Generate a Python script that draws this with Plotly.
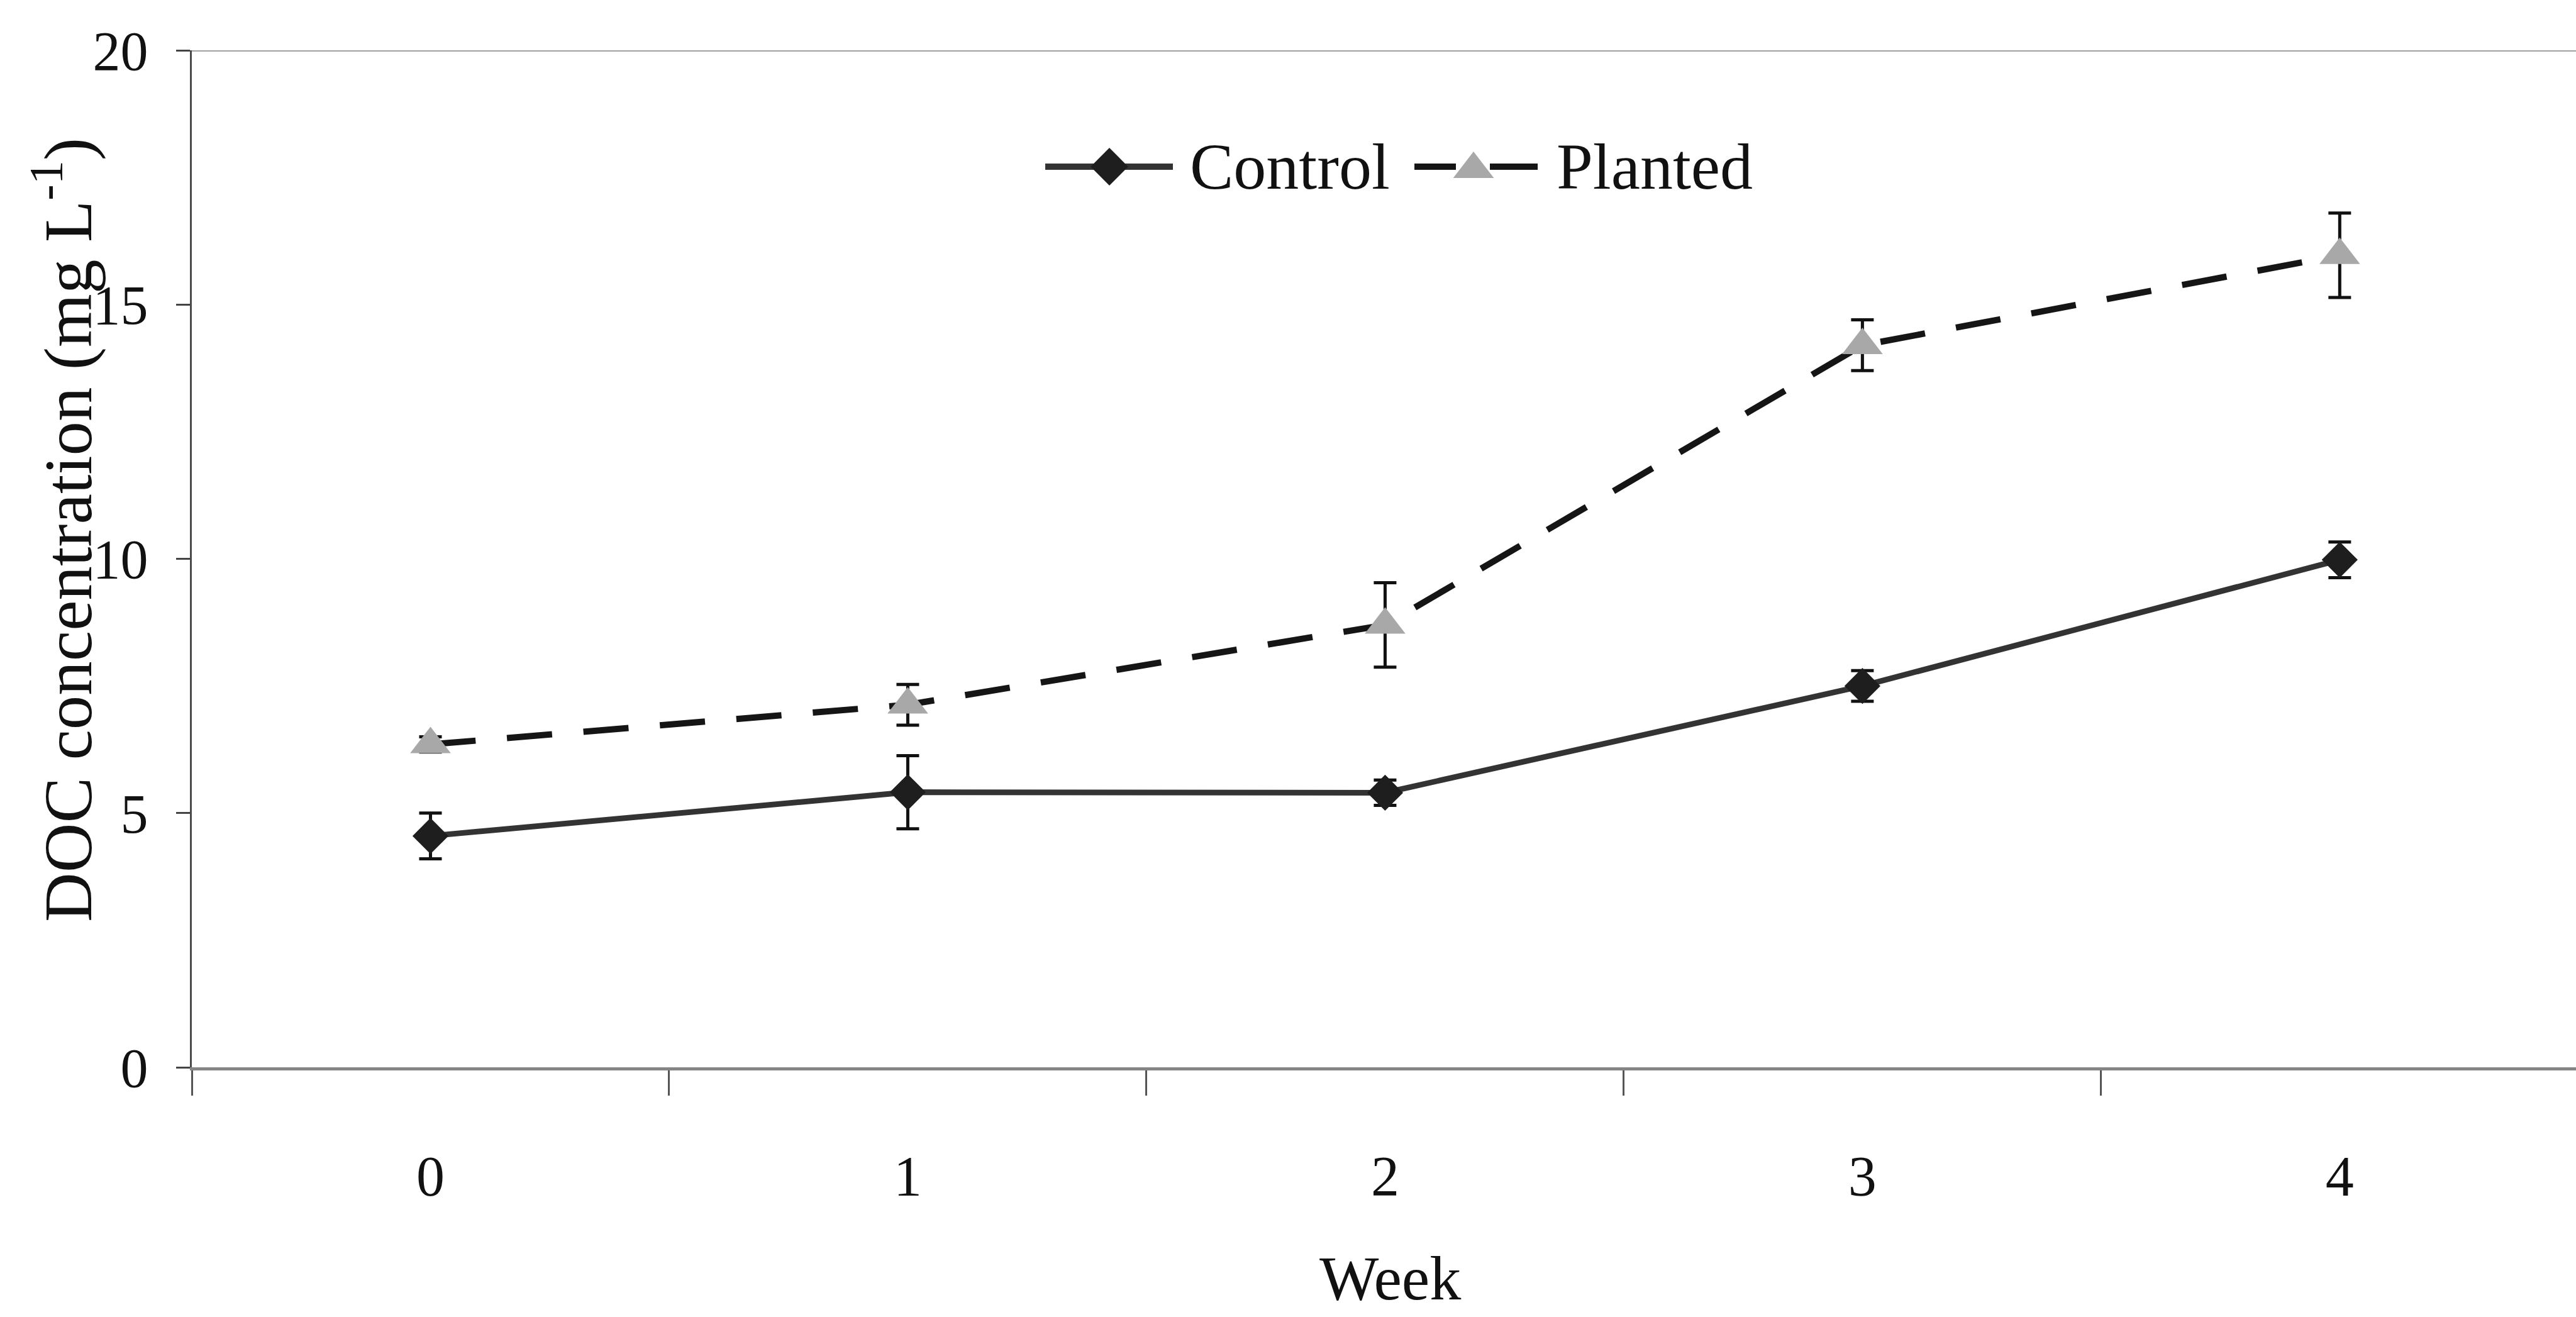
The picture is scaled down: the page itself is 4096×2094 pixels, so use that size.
import plotly.graph_objects as go

# Weekly DOC concentration (mg L-1), mean and error
weeks = ["0", "1", "2", "3", "4"]
control = [4.55, 5.41, 5.40, 7.50, 9.98]
control_err = [0.45, 0.72, 0.25, 0.30, 0.35]
planted = [6.35, 7.13, 8.70, 14.20, 15.97]
planted_err = [0.15, 0.40, 0.83, 0.50, 0.83]
y_ticks = [0, 5, 10, 15, 20]

W, H = 4096, 2094
L, T, B = 305, 80, 397
PW, PH = W - L, H - T - B
FONT = "Liberation Serif"


def px(x):
    """Pixel column -> paper x."""
    return (x - L) / PW


def py(y):
    """Pixel row -> paper y."""
    return (H - B - y) / PH


fig = go.Figure()

fig.add_trace(go.Scatter(
    x=weeks, y=control, name="Control", mode="lines+markers",
    line=dict(color="#333333", width=9),
    marker=dict(symbol="diamond", size=44, color="#1e1e1e"),
    error_y=dict(type="data", array=control_err, color="#111111",
                 thickness=5, width=18),
    showlegend=False, cliponaxis=False,
))
fig.add_trace(go.Scatter(
    x=weeks, y=planted, name="Planted", mode="lines+markers",
    line=dict(color="#151515", width=10, dash="72px,50px"),
    marker=dict(symbol="triangle-up", size=56, color="#a8a8a8"),
    error_y=dict(type="data", array=planted_err, color="#111111",
                 thickness=5, width=18),
    showlegend=False, cliponaxis=False,
))

# Legend drawn on a pixel-space overlay axis
leg_y = 265
fig.add_trace(go.Scatter(
    x=[1662, 1865], y=[leg_y, leg_y], mode="lines",
    line=dict(color="#333333", width=10), xaxis="x2", yaxis="y2",
    showlegend=False, hoverinfo="skip"))
fig.add_trace(go.Scatter(
    x=[1764], y=[leg_y], mode="markers",
    marker=dict(symbol="diamond", size=46, color="#1e1e1e"),
    xaxis="x2", yaxis="y2", showlegend=False, hoverinfo="skip"))
for seg in ([2249, 2315], [2369, 2445]):
    fig.add_trace(go.Scatter(
        x=seg, y=[leg_y, leg_y], mode="lines",
        line=dict(color="#151515", width=10), xaxis="x2", yaxis="y2",
        showlegend=False, hoverinfo="skip"))
fig.add_trace(go.Scatter(
    x=[2343], y=[leg_y + 4], mode="markers",
    marker=dict(symbol="triangle-up", size=56, color="#a8a8a8"),
    xaxis="x2", yaxis="y2", showlegend=False, hoverinfo="skip"))

text_font = dict(family=FONT, size=104, color="#111111")
annotations = [
    dict(text="Control", x=px(1890), y=py(264), xref="paper", yref="paper",
         xanchor="left", yanchor="middle", showarrow=False, font=text_font),
    dict(text="Planted", x=px(2473), y=py(264), xref="paper", yref="paper",
         xanchor="left", yanchor="middle", showarrow=False, font=text_font),
    dict(text="DOC concentration (mg L<sup>-1</sup>)", x=px(100), y=py(843),
         xref="paper", yref="paper", xanchor="center", yanchor="middle",
         textangle=-90, showarrow=False,
         font=dict(family=FONT, size=109, color="#111111")),
    dict(text="Week", x=px(2210), y=py(2032), xref="paper", yref="paper",
         xanchor="center", yanchor="middle", showarrow=False,
         font=dict(family=FONT, size=100, color="#111111")),
]

fig.update_layout(
    width=W, height=H,
    margin=dict(l=L, r=0, t=T, b=B, pad=0),
    paper_bgcolor="white", plot_bgcolor="white",
    font=dict(family=FONT, color="#111111"),
    annotations=annotations,
    xaxis=dict(
        type="category", categoryorder="array", categoryarray=weeks,
        range=[-0.5, 4.495], tickson="boundaries",
        ticks="outside", ticklen=40, tickwidth=3, tickcolor="#555555",
        showline=True, linecolor="#858585", linewidth=5,
        showgrid=False, zeroline=False,
        tickfont=dict(family=FONT, size=90, color="#111111"),
        ticklabelstandoff=91,
    ),
    yaxis=dict(
        range=[0, 20], tickmode="array", tickvals=y_ticks,
        ticktext=[str(v) for v in y_ticks],
        ticks="outside", ticklen=22, tickwidth=3, tickcolor="#444444",
        showline=True, linecolor="#4a4a4a", linewidth=3,
        showgrid=False, zeroline=False,
        tickfont=dict(family=FONT, size=88, color="#111111"),
        ticklabelstandoff=27,
    ),
    xaxis2=dict(domain=[0, 1], range=[L, W], overlaying="x", anchor="y2",
                visible=False, fixedrange=True),
    yaxis2=dict(domain=[0, 1], range=[H - B, T], overlaying="y", anchor="x2",
                visible=False, fixedrange=True),
    shapes=[dict(type="line", xref="paper", yref="y", x0=0, x1=1, y0=20, y1=20,
                 line=dict(color="#a0a0a0", width=4), layer="below")],
)

fig.write_html("out.html")
